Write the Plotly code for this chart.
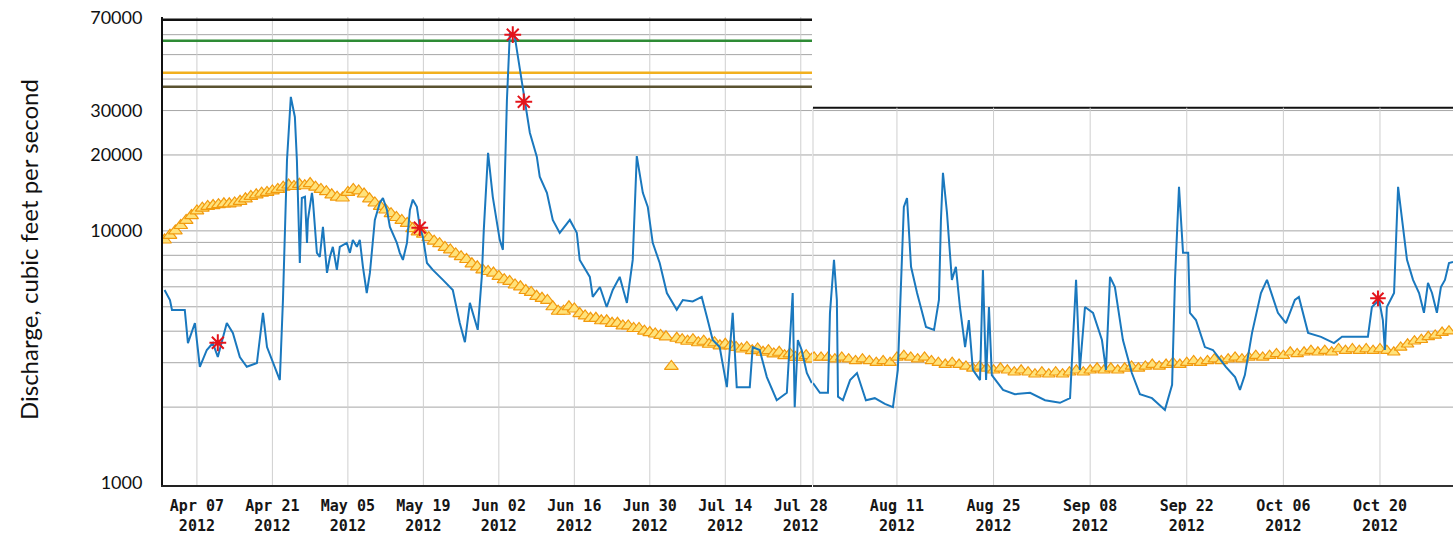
import numpy as np
import pandas as pd
import plotly.graph_objects as go

# ---------------- data ----------------
flow_left_time = [
    "2012-04-01 00:00", "2012-04-02 00:00", "2012-04-02 09:00", "2012-04-04 18:00", "2012-04-05 08:00",
    "2012-04-06 15:00", "2012-04-07 13:00", "2012-04-08 20:00", "2012-04-09 23:00", "2012-04-10 21:00",
    "2012-04-12 13:00", "2012-04-13 16:00", "2012-04-14 23:00", "2012-04-16 06:00", "2012-04-18 03:00",
    "2012-04-19 06:00", "2012-04-20 00:00", "2012-04-21 02:00", "2012-04-22 09:00", "2012-04-22 23:00",
    "2012-04-23 17:00", "2012-04-24 10:00", "2012-04-25 04:00", "2012-04-25 13:00", "2012-04-26 02:00",
    "2012-04-26 11:00", "2012-04-27 01:00", "2012-04-27 10:00", "2012-04-27 14:00", "2012-04-28 08:00",
    "2012-04-28 12:00", "2012-04-29 06:00", "2012-04-29 19:00", "2012-04-30 09:00", "2012-05-01 03:00",
    "2012-05-01 16:00", "2012-05-02 05:00", "2012-05-02 23:00", "2012-05-03 12:00", "2012-05-04 19:00",
    "2012-05-05 09:00", "2012-05-05 22:00", "2012-05-06 16:00", "2012-05-07 05:00", "2012-05-07 19:00",
    "2012-05-08 12:00", "2012-05-09 02:00", "2012-05-10 00:00", "2012-05-10 22:00", "2012-05-11 12:00",
    "2012-05-12 06:00", "2012-05-12 19:00", "2012-05-14 02:00", "2012-05-14 15:00", "2012-05-15 05:00",
    "2012-05-15 23:00", "2012-05-16 12:00", "2012-05-17 01:00", "2012-05-17 19:00", "2012-05-18 08:00",
    "2012-05-18 22:00", "2012-05-19 16:00", "2012-05-20 18:00", "2012-05-22 15:00", "2012-05-24 11:00",
    "2012-05-25 18:00", "2012-05-26 17:00", "2012-05-27 15:00", "2012-05-29 02:00", "2012-05-29 20:00",
    "2012-05-30 05:00", "2012-05-31 00:00", "2012-05-31 21:00", "2012-06-02 04:00", "2012-06-02 18:00",
    "2012-06-03 12:00", "2012-06-04 01:00", "2012-06-04 23:00", "2012-06-05 21:00", "2012-06-06 20:00",
    "2012-06-07 18:00", "2012-06-09 01:00", "2012-06-09 14:00", "2012-06-10 22:00", "2012-06-12 00:00",
    "2012-06-13 07:00", "2012-06-15 04:00", "2012-06-16 11:00", "2012-06-17 00:00", "2012-06-18 21:00",
    "2012-06-19 10:00", "2012-06-20 18:00", "2012-06-22 00:00", "2012-06-23 03:00", "2012-06-24 10:00",
    "2012-06-25 18:00", "2012-06-26 07:00", "2012-06-26 20:00", "2012-06-27 14:00", "2012-06-28 17:00",
    "2012-06-29 15:00", "2012-06-30 13:00", "2012-07-01 20:00", "2012-07-03 04:00", "2012-07-05 00:00",
    "2012-07-06 03:00", "2012-07-07 23:00", "2012-07-09 15:00", "2012-07-10 14:00", "2012-07-11 16:00",
    "2012-07-12 23:00", "2012-07-14 07:00", "2012-07-15 09:00", "2012-07-16 03:00", "2012-07-18 13:00",
    "2012-07-19 02:00", "2012-07-20 09:00", "2012-07-21 17:00", "2012-07-23 13:00", "2012-07-25 10:00",
    "2012-07-26 12:00", "2012-07-26 21:00", "2012-07-27 11:00", "2012-07-28 04:00", "2012-07-29 03:00",
    "2012-07-30 01:00",
]
flow_left_cfs = [
    5830, 5320, 4860, 4860, 3590,
    4310, 2890, 3370, 3590, 3160,
    4310, 3940, 3160, 2890, 2990,
    4730, 3460, 2990, 2560, 5320,
    19100, 34000, 28300, 19100, 7460,
    13500, 13650, 8960, 11050, 14150,
    13300, 8180, 7880, 10370, 6810,
    7880, 8640, 7000, 8640, 8960,
    8180, 9210, 8640, 9210, 7200,
    5670, 6810, 11050, 12900, 13500,
    12100, 10370, 8960, 8180, 7670,
    8960, 12100, 13300, 12450, 10370,
    9460, 7460, 7000, 6390, 5830,
    4310, 3620, 5180, 4050, 6570,
    10090, 20400, 13650, 9210, 8410,
    33100, 61100, 58900, 43500, 32200,
    24500, 19700, 16400, 14150, 11050,
    9820, 11050, 9820, 7670, 6570,
    5470, 5990, 4990, 5830, 6570,
    5180, 6390, 7670, 19800, 14150,
    12450, 8960, 7460, 5670, 4860,
    5320, 5250, 5470, 4560, 3690,
    3460, 2400, 4730, 2400, 2400,
    3460, 3370, 2630, 2130, 2280,
    5670, 2000, 3690, 3370, 2730,
    2490,
]

flow_right_time = [
    "2012-07-29 20:00", "2012-07-30 20:00", "2012-08-01 00:00", "2012-08-01 07:00", "2012-08-01 21:00",
    "2012-08-02 07:00", "2012-08-02 11:00", "2012-08-03 04:00", "2012-08-04 05:00", "2012-08-05 05:00",
    "2012-08-06 12:00", "2012-08-07 19:00", "2012-08-09 06:00", "2012-08-10 10:00", "2012-08-11 03:00",
    "2012-08-11 17:00", "2012-08-12 00:00", "2012-08-12 11:00", "2012-08-13 01:00", "2012-08-13 22:00",
    "2012-08-15 05:00", "2012-08-16 09:00", "2012-08-17 02:00", "2012-08-17 09:00", "2012-08-17 16:00",
    "2012-08-18 06:00", "2012-08-18 23:00", "2012-08-19 13:00", "2012-08-20 03:00", "2012-08-20 21:00",
    "2012-08-21 10:00", "2012-08-22 00:00", "2012-08-23 01:00", "2012-08-23 11:00", "2012-08-23 22:00",
    "2012-08-24 08:00", "2012-08-24 18:00", "2012-08-26 09:00", "2012-08-28 02:00", "2012-08-30 07:00",
    "2012-09-01 11:00", "2012-09-03 15:00", "2012-09-05 02:00", "2012-09-05 23:00", "2012-09-06 12:00",
    "2012-09-07 06:00", "2012-09-08 10:00", "2012-09-09 17:00", "2012-09-10 07:00", "2012-09-10 21:00",
    "2012-09-11 14:00", "2012-09-12 18:00", "2012-09-14 01:00", "2012-09-15 05:00", "2012-09-16 23:00",
    "2012-09-18 20:00", "2012-09-19 21:00", "2012-09-20 07:00", "2012-09-20 21:00", "2012-09-21 11:00",
    "2012-09-22 05:00", "2012-09-22 11:00", "2012-09-23 08:00", "2012-09-24 15:00", "2012-09-25 19:00",
    "2012-09-27 16:00", "2012-09-29 00:00", "2012-09-29 17:00", "2012-09-30 10:00", "2012-10-01 11:00",
    "2012-10-02 18:00", "2012-10-03 15:00", "2012-10-05 05:00", "2012-10-06 09:00", "2012-10-07 16:00",
    "2012-10-08 06:00", "2012-10-09 14:00", "2012-10-11 11:00", "2012-10-13 08:00", "2012-10-14 12:00",
    "2012-10-16 09:00", "2012-10-18 06:00", "2012-10-18 20:00", "2012-10-19 21:00", "2012-10-20 10:00",
    "2012-10-20 17:00", "2012-10-21 00:00", "2012-10-22 01:00", "2012-10-22 15:00", "2012-10-23 05:00",
    "2012-10-23 22:00", "2012-10-24 19:00", "2012-10-25 16:00", "2012-10-26 09:00", "2012-10-26 23:00",
    "2012-10-27 13:00", "2012-10-28 06:00", "2012-10-28 20:00", "2012-10-29 10:00", "2012-10-30 00:00",
    "2012-10-30 14:00",
]
flow_right_cfs = [
    2490, 2280, 2280, 4730, 7670,
    5320, 2200, 2130, 2560, 2730,
    2130, 2170, 2060, 2000, 2810,
    8180, 12450, 13500, 7200, 5670,
    4160, 4050, 5320, 11050, 17000,
    11800, 6390, 7200, 4990, 3460,
    4430, 2810, 2560, 7000, 2560,
    4990, 2680, 2340, 2250, 2280,
    2130, 2080, 2170, 6390, 2810,
    4990, 4730, 3690, 2810, 6570,
    5990, 3690, 2730, 2250, 2170,
    1950, 2450, 6390, 14950, 8180,
    8180, 4730, 4430, 3460, 3370,
    2890, 2630, 2340, 2680, 3940,
    5670, 6390, 4730, 4310, 5320,
    5470, 3940, 3800, 3590, 3800,
    3800, 3800, 4990, 5320, 4430,
    3370, 4990, 5670, 14950, 11050,
    7670, 6390, 5670, 4730, 6220,
    5670, 4730, 5990, 6390, 7460,
    7530,
]

# daily median statistic (one value per day)
median_left_start = "2012-04-01"
median_apr = [9200, 9600, 10000, 10500, 11000, 11500,
              12000, 12300, 12500, 12600, 12700, 12800, 12800, 12900, 13100,
              13400, 13700, 13900, 14100, 14200, 14400, 14600,
              14900, 15200, 15000, 15300, 15100, 15400, 14900, 14600]
median_may = [14300, 13900, 13600, 13500,
              14200, 14600, 14400, 14000, 13400,
              12900, 12500, 12100, 11700, 11300, 11000, 10700,
              10200, 9900, 9700, 9400, 9100, 8900, 8600,
              8400, 8100, 7900, 7700, 7400, 7200, 7000, 6900]
median_jun = [6800, 6600, 6400, 6300, 6100, 6000, 5800,
              5700, 5500, 5400, 5300, 5000, 4800, 4800,
              5000, 4900, 4700, 4600, 4500, 4500, 4400,
              4400, 4300, 4300, 4200, 4200, 4100, 4100, 4000, 3950]
median_jul = [3900, 3850, 3800, 2900, 3750, 3700, 3650,
              3700, 3600, 3650, 3550, 3600, 3500, 3550,
              3500, 3450, 3400, 3450, 3350, 3400, 3300,
              3350, 3250, 3300, 3200, 3250, 3150, 3150, 3200, 3100]

median_right_start = "2012-07-30"
median_jul_end = [3150, 3150]
median_aug = [3150, 3100, 3150, 3100, 3050, 3100, 3050, 3000, 3050, 3000,
              3150, 3200, 3150, 3100, 3150, 3050, 3000, 2950, 3000, 2950,
              2900, 2850, 2900, 2850, 2800, 2850, 2800, 2750, 2800, 2750, 2700]
median_sep = [2750, 2700, 2750, 2700, 2750, 2800, 2750, 2800, 2850, 2800,
              2850, 2800, 2850, 2900, 2850, 2900, 2950, 2900, 2950, 3000,
              2950, 3000, 3050, 3000, 3050, 3100, 3050, 3100, 3150, 3100]
median_oct = [3150, 3200, 3150, 3200, 3250, 3200, 3300, 3250, 3300, 3350,
              3300, 3350, 3300, 3400, 3350, 3400, 3350, 3400, 3350, 3400,
              3350, 3300, 3450, 3550, 3650, 3700, 3800, 3850, 3950, 4000]

# field measurements (red asterisks)
meas_left_time = ["2012-04-10 21:00", "2012-05-18 08:00", "2012-06-04 14:00", "2012-06-06 15:00"]
meas_left_cfs = [3600, 10300, 60000, 32500]
meas_right_time = ["2012-10-19 17:00"]
meas_right_cfs = [5400]

# axes / reference values
left_ticks = ["2012-04-07", "2012-04-21", "2012-05-05", "2012-05-19", "2012-06-02",
              "2012-06-16", "2012-06-30", "2012-07-14", "2012-07-28"]
right_ticks = ["2012-08-11", "2012-08-25", "2012-09-08", "2012-09-22", "2012-10-06", "2012-10-20"]
left_range = ["2012-03-31 17:00", "2012-07-30 02:00"]
right_range = ["2012-07-29 20:00", "2012-10-30 14:00"]
y_tick_vals = [1000, 10000, 20000, 30000, 70000]
y_range_cfs = [982, 70500]
grid_vals = [2000, 3000, 4000, 5000, 6000, 7000, 8000, 9000,
             10000, 20000, 30000, 40000, 50000, 60000]
threshold_vals = [68700, 56750, 42400, 37300]
threshold_colors = ["#111111", "#2E8B35", "#F2B01E", "#5A5230"]
right_top_cfs = 30800

# ---------------- figure ----------------
BLUE = "#1A78BE"
TRI_FILL = "#FFE27A"
TRI_EDGE = "#F29A0E"
GRID = "#A6A6A6"
VGRID = "#CFCFCF"

median_left_cfs = median_apr + median_may + median_jun + median_jul
median_right_cfs = median_jul_end + median_aug + median_sep + median_oct
med_left_dates = pd.date_range(median_left_start, periods=len(median_left_cfs), freq="D")
med_right_dates = pd.date_range(median_right_start, periods=len(median_right_cfs), freq="D")

fig = go.Figure()

fig.add_trace(go.Scatter(x=med_left_dates, y=median_left_cfs, mode="markers", xaxis="x", yaxis="y",
                         marker=dict(symbol="triangle-up", size=12, color=TRI_FILL,
                                     line=dict(color=TRI_EDGE, width=1.2)), hoverinfo="skip"))
fig.add_trace(go.Scatter(x=med_right_dates, y=median_right_cfs, mode="markers", xaxis="x2", yaxis="y",
                         marker=dict(symbol="triangle-up", size=11, color=TRI_FILL,
                                     line=dict(color=TRI_EDGE, width=1.2)), hoverinfo="skip"))
fig.add_trace(go.Scatter(x=pd.to_datetime(flow_left_time), y=flow_left_cfs, mode="lines",
                         xaxis="x", yaxis="y", line=dict(color=BLUE, width=2)))
fig.add_trace(go.Scatter(x=pd.to_datetime(flow_right_time), y=flow_right_cfs, mode="lines",
                         xaxis="x2", yaxis="y", line=dict(color=BLUE, width=2)))
fig.add_trace(go.Scatter(x=pd.to_datetime(meas_left_time), y=meas_left_cfs, mode="markers",
                         xaxis="x", yaxis="y", cliponaxis=False,
                         marker=dict(symbol="asterisk-open", size=14, color="#E3141B",
                                     line=dict(color="#E3141B", width=2))))
fig.add_trace(go.Scatter(x=pd.to_datetime(meas_right_time), y=meas_right_cfs, mode="markers",
                         xaxis="x2", yaxis="y", cliponaxis=False,
                         marker=dict(symbol="asterisk-open", size=13, color="#E3141B",
                                     line=dict(color="#E3141B", width=2))))

shapes = []
# horizontal grid lines
for v in grid_vals:
    shapes.append(dict(type="line", xref="x domain", x0=0, x1=1, yref="y", y0=v, y1=v,
                       line=dict(color=GRID, width=1), layer="below"))
    if v < right_top_cfs:
        shapes.append(dict(type="line", xref="x2 domain", x0=0, x1=1, yref="y", y0=v, y1=v,
                           line=dict(color=GRID, width=1), layer="below"))
# vertical grid lines
for t in left_ticks:
    shapes.append(dict(type="line", xref="x", x0=t, x1=t, yref="y domain", y0=0, y1=1,
                       line=dict(color=VGRID, width=1), layer="below"))
for t in right_ticks:
    shapes.append(dict(type="line", xref="x2", x0=t, x1=t, yref="y", y0=y_range_cfs[0], y1=right_top_cfs,
                       line=dict(color=VGRID, width=1), layer="below"))
# panel boundary
shapes.append(dict(type="line", xref="x2 domain", x0=0, x1=0, yref="y", y0=y_range_cfs[0], y1=right_top_cfs,
                   line=dict(color=VGRID, width=1), layer="below"))
# threshold lines (left panel)
for v, c in zip(threshold_vals, threshold_colors):
    shapes.append(dict(type="line", xref="x domain", x0=0, x1=1, yref="y", y0=v, y1=v,
                       line=dict(color=c, width=2.5), layer="below"))
# top border of right panel
shapes.append(dict(type="line", xref="x2 domain", x0=0, x1=1, yref="y", y0=right_top_cfs, y1=right_top_cfs,
                   line=dict(color="#111111", width=2), layer="below"))


def tick_text(ticks):
    out = []
    for t in pd.to_datetime(ticks):
        out.append("<b>%s</b><br><b>%s</b>" % (t.strftime("%b %d"), t.strftime("%Y")))
    return out


xfont = dict(family="DejaVu Sans Mono", size=15, color="#161616")
W, H = 1453, 536
ML, MR, MT, MB = 163, 0, 17, 51
pw = W - ML - MR
ph = H - MT - MB

fig.update_layout(
    template="none",
    width=W, height=H, autosize=False,
    margin=dict(l=ML, r=MR, t=MT, b=MB, pad=0, autoexpand=False),
    paper_bgcolor="white", plot_bgcolor="white",
    showlegend=False,
    xaxis=dict(type="date", domain=[0, 649 / pw], range=left_range, anchor="y", automargin=False,
               tickmode="array", tickvals=left_ticks, ticktext=tick_text(left_ticks),
               showgrid=False, zeroline=False, showline=True, linecolor="#222222", linewidth=2,
               ticks="", tickfont=xfont, ticklabelstandoff=6),
    xaxis2=dict(type="date", domain=[650 / pw, 1], range=right_range, anchor="y", automargin=False,
                tickmode="array", tickvals=right_ticks, ticktext=tick_text(right_ticks),
                showgrid=False, zeroline=False, showline=True, linecolor="#333333", linewidth=2,
                ticks="", tickfont=xfont, ticklabelstandoff=6),
    yaxis=dict(type="log", range=[np.log10(y_range_cfs[0]), np.log10(y_range_cfs[1])], automargin=False,
               tickmode="array", tickvals=y_tick_vals, ticktext=[str(v) for v in y_tick_vals],
               showgrid=False, zeroline=False, showline=True, linecolor="#111111", linewidth=2,
               ticks="", tickfont=dict(family="Lato", size=18, color="#111111"), ticklabelstandoff=15),
    shapes=shapes,
    annotations=[dict(text="Discharge, cubic feet per second", textangle=-90, showarrow=False,
                      xref="paper", yref="paper", x=(28 - ML) / pw, y=(H - MB - 250) / ph,
                      xanchor="center", yanchor="middle",
                      font=dict(family="Lato", size=24, color="#111111"))],
)

post = """
document.documentElement.style.overflow='hidden';
document.body.style.margin='0';
document.body.style.overflow='hidden';
"""
fig.write_html("out.html",
               config={"displayModeBar": False, "responsive": False},
               post_script=post)
